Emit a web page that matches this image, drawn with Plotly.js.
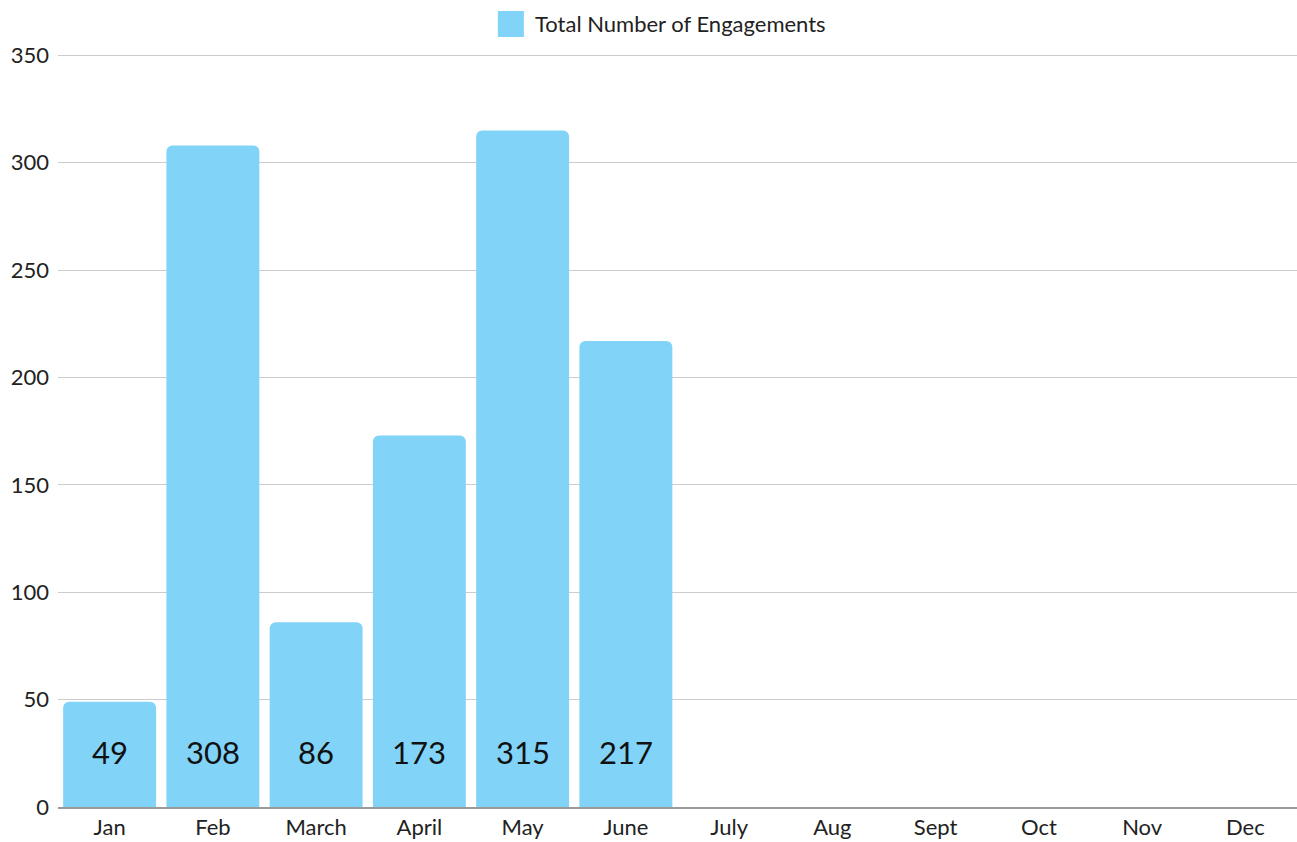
<!DOCTYPE html>
<html>
<head>
<meta charset="utf-8">
<script src="https://cdn.plot.ly/plotly-3.0.1.min.js"></script>
<style>html,body{margin:0;padding:0;background:#fff;}#chart{width:1297px;height:842px;}</style>
</head>
<body>
<div id="chart"></div>
<script>
const months = ["Jan","Feb","March","April","May","June","July","Aug","Sept","Oct","Nov","Dec"];
const engagements = [49, 308, 86, 173, 315, 217, null, null, null, null, null, null];
const seriesName = "Total Number of Engagements";
const yTicks = [0, 50, 100, 150, 200, 250, 300, 350];

const FONT = "Lato, 'Open Sans', sans-serif";
const barColor = "#81D3F8";

const trace = {
  type: "bar",
  x: months,
  y: engagements,
  name: seriesName,
  marker: {color: barColor, cornerradius: 6},
  showlegend: false,
  hoverinfo: "x+y"
};

const labelAnnotations = months.map((m, i) => engagements[i] == null ? null : ({
  x: m, y: 0, xref: "x", yref: "y",
  text: String(engagements[i]),
  showarrow: false,
  yshift: 55, yanchor: "middle",
  font: {family: FONT, size: 31, color: "#111"}
})).filter(a => a);

const legendAnnotation = {
  xref: "paper", yref: "paper", x: 0.3835, y: 1.0, xanchor: "left", yanchor: "middle",
  yshift: 31,
  text: seriesName, showarrow: false,
  font: {family: FONT, size: 22, color: "#222"}
};

const layout = {
  width: 1297, height: 842,
  margin: {l: 58, r: 0, t: 54, b: 35},
  paper_bgcolor: "#fff", plot_bgcolor: "#fff",
  bargap: 0.1,
  font: {family: FONT, color: "#222"},
  xaxis: {
    type: "category",
    tickfont: {family: FONT, size: 22, color: "#222"},
    showgrid: false, ticks: "",
    showline: true, linecolor: "#9a9a9a", linewidth: 2,
    ticklabelstandoff: 0,
    fixedrange: true
  },
  yaxis: {
    range: [0, 350.6],
    tickvals: yTicks,
    ticktext: yTicks.map(String),
    tickfont: {family: FONT, size: 22, color: "#222"},
    gridcolor: "#cccccc", gridwidth: 1,
    zeroline: false, showline: false, ticks: "",
    ticklabelstandoff: 8,
    fixedrange: true
  },
  shapes: [{
    type: "rect", xref: "paper", yref: "paper",
    x0: 0.355, x1: 0.376,
    ysizemode: "pixel", yanchor: 1.0, y0: 17, y1: 43,
    fillcolor: barColor, line: {width: 0}
  }],
  annotations: labelAnnotations.concat([legendAnnotation])
};

Plotly.newPlot("chart", [trace], layout, {displayModeBar: false, staticPlot: true});
</script>
</body>
</html>
